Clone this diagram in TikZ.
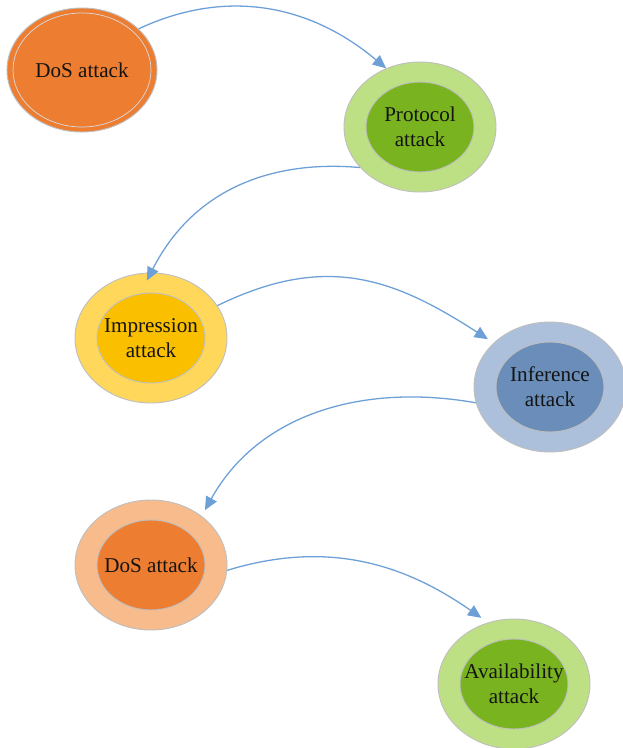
\documentclass[tikz,border=0pt]{standalone}
\usepackage{fontspec}
\setmainfont{Liberation Serif}
\usetikzlibrary{shapes.geometric, arrows.meta}

\definecolor{dosorange}{RGB}{237,125,49}
\definecolor{dosout}{RGB}{248,187,140}
\definecolor{greenout}{RGB}{190,224,132}
\definecolor{greenin}{RGB}{121,180,32}
\definecolor{yellowout}{RGB}{255,215,90}
\definecolor{yellowin}{RGB}{250,192,0}
\definecolor{blueout}{RGB}{173,192,219}
\definecolor{bluein}{RGB}{106,142,185}
\definecolor{edgegray}{RGB}{191,191,191}
\definecolor{ringgray}{RGB}{215,220,226}
\definecolor{flowblue}{RGB}{109,160,215}

\begin{document}
\begin{tikzpicture}[x=0.03cm, y=0.03cm,
        outer/.style={ellipse, draw=edgegray, line width=0.8pt, inner sep=0pt,
                      minimum width=4.56cm, minimum height=3.9cm},
        inner/.style={ellipse, draw=edgegray, line width=0.8pt, inner sep=0pt,
                      minimum width=3.24cm, minimum height=2.7cm},
        txt/.style={align=center, font=\fontsize{18}{21.5}\selectfont, text=black!92},
        flow/.style={draw=flowblue, line width=1.1pt, -{Triangle[length=0.4cm, width=0.36cm]}}]
        \useasboundingbox (0,0) rectangle (623,-748);
        % first attack
        \node (dosA) [outer, fill=dosorange, minimum width=4.5cm, minimum height=3.72cm] at (82,-70) {};
        \node (dosAring) [ellipse, draw=ringgray, line width=0.6pt,
                          minimum width=4.14cm, minimum height=3.42cm] at (dosA) {};
        \node (dosAtxt) [txt] at (dosA) {DoS attack};
        % rings
        \foreach \n/\px/\py/\co/\ci/\t in {prot/420/127/greenout/greenin/{Protocol\\attack},
                                          imp/151/338/yellowout/yellowin/{Impression\\attack},
                                          inf/550/387/blueout/bluein/{Inference\\attack},
                                          dosB/151/565/dosout/dosorange/{DoS attack},
                                          avail/514/684/greenout/greenin/{Availability\\attack}}
        {
            \node (\n) [outer, fill=\co] at (\px,-\py) {};
            \node (\n-in) [inner, fill=\ci] at (\n) {};
            \node (\n-txt) [txt] at (\n) {\t};
        }
        % flow
        \draw[flow] (dosA.36) to[out=25, in=140] (prot.120);
        \draw[flow, shorten >=-0.27cm] (prot.214) to[out=175, in=63] (imp.90);
        \draw[flow, shorten >=0.2cm] (imp.26) to[out=26, in=147, looseness=1.1] (inf.142);
        \draw[flow, shorten >=0.2cm] (inf.192) to[out=170, in=61] (dosB.44);
        \draw[flow, shorten >=0.24cm] (dosB.356) to[out=17, in=145] (avail.113);
        %
\end{tikzpicture}
\end{document}
